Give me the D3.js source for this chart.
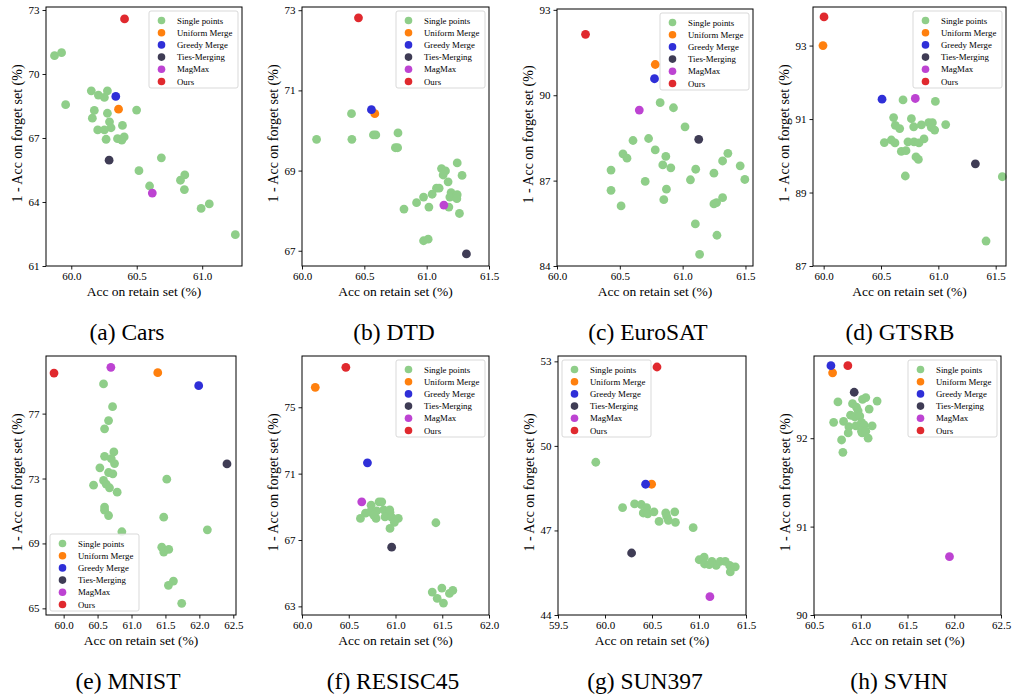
<!DOCTYPE html>
<html><head><meta charset="utf-8">
<script src="https://cdn.jsdelivr.net/npm/d3@7"></script>
<style>
body{margin:0;background:#fff}
svg{display:block}
text{font-family:"Liberation Serif","Times New Roman",serif;fill:#000}
</style>
</head><body>
<svg id="chart" width="1013" height="698"></svg>
<script>
// ---------- series ----------
const seriesNames = ["Single points","Uniform Merge","Greedy Merge","Ties-Merging","MagMax","Ours"];
const seriesColors = ["#8fce89","#ff800e","#2f2fd8","#3f3c55","#bd43d2","#e0292e"];
// method points order: Uniform Merge, Greedy Merge, Ties-Merging, MagMax, Ours

// ---------- (a) Cars ----------
const carsSingle = [[59.872,70.86],[59.926,71.00],[59.957,68.56],[60.153,69.21],[60.207,69.01],[60.253,68.90],[60.276,69.21],[60.176,68.29],[60.161,67.93],[60.276,68.16],[60.292,67.76],[60.304,67.48],[60.202,67.38],[60.253,67.38],[60.266,66.94],[60.353,66.97],[60.386,66.90],[60.404,67.05],[60.391,67.59],[60.499,68.31],[60.688,66.07],[60.517,65.47],[60.598,64.75],[60.834,65.02],[60.867,65.27],[60.864,64.58],[60.992,63.70],[61.054,63.91],[61.253,62.47]];
const carsMethods = [[60.361,68.35],[60.340,68.95],[60.289,65.96],[60.619,64.42],[60.407,72.58]];
const carsXTicks = [60.0,60.5,61.0];
const carsYTicks = [61,64,67,70,73];

// ---------- (b) DTD ----------
const dtdSingle = [[60.117,69.78],[60.397,70.42],[60.400,69.78],[60.573,69.89],[60.592,69.89],[60.770,69.94],[60.749,69.57],[60.767,69.57],[61.119,69.05],[61.151,68.99],[61.132,68.89],[61.245,69.19],[61.284,68.88],[61.172,68.72],[61.079,68.56],[61.100,68.56],[61.044,68.41],[60.975,68.34],[60.919,68.20],[60.818,68.04],[61.018,68.09],[61.196,68.45],[61.186,68.34],[61.245,68.40],[61.242,68.30],[61.178,68.09],[61.263,67.93],[60.975,67.25],[61.012,67.29]];
const dtdMethods = [[60.584,70.42],[60.557,70.52],[61.319,66.92],[61.138,68.14],[60.453,72.81]];
const dtdXTicks = [60.0,60.5,61.0,61.5];
const dtdYTicks = [67,69,71,73];

// ---------- (c) EuroSAT ----------
const eurosatSingle = [[60.821,89.74],[60.927,89.56],[61.019,88.89],[60.729,88.48],[60.605,88.41],[60.782,88.08],[60.525,87.94],[60.557,87.79],[60.866,87.85],[60.842,87.55],[60.906,87.45],[60.430,87.37],[60.702,86.97],[60.430,86.66],[60.871,86.70],[60.850,86.33],[60.510,86.11],[61.104,87.40],[61.062,87.03],[61.249,87.26],[61.318,87.69],[61.360,87.96],[61.458,87.52],[61.495,87.04],[61.318,86.40],[61.270,86.23],[61.249,86.18],[61.101,85.48],[61.273,85.08],[61.135,84.41]];
const eurosatMethods = [[60.782,91.08],[60.776,90.58],[61.128,88.45],[60.655,89.48],[60.227,92.14]];
const eurosatXTicks = [60.0,60.5,61.0,61.5];
const eurosatYTicks = [84,87,90,93];

// ---------- (d) GTSRB ----------
const gtsrbSingle = [[60.692,91.52],[60.974,91.48],[60.610,91.04],[60.765,91.01],[60.625,90.83],[60.663,90.74],[60.785,90.79],[60.852,90.84],[60.916,90.90],[60.948,90.90],[60.939,90.77],[60.968,90.70],[61.064,90.85],[60.875,90.46],[60.529,90.36],[60.590,90.43],[60.622,90.35],[60.735,90.38],[60.788,90.38],[60.831,90.35],[60.677,90.12],[60.718,90.14],[60.805,89.97],[60.826,89.90],[60.712,89.45],[61.558,89.43],[61.416,87.68]];
const gtsrbMethods = [[59.994,93.00],[60.509,91.54],[61.323,89.78],[60.799,91.56],[60.003,93.78]];
const gtsrbXTicks = [60.0,60.5,61.0,61.5];
const gtsrbYTicks = [87,89,91,93];

// ---------- (e) MNIST ----------
const mnistSingle = [[60.588,78.83],[60.721,77.43],[60.662,76.57],[60.603,76.06],[60.740,74.64],[60.603,74.37],[60.701,74.23],[60.750,73.92],[60.534,73.66],[60.662,73.37],[60.725,73.29],[60.588,72.88],[60.441,72.59],[60.627,72.65],[60.676,72.43],[60.789,72.16],[60.603,71.24],[60.603,71.05],[60.662,70.72],[60.858,69.72],[61.520,72.96],[61.475,70.62],[62.118,69.84],[61.446,68.77],[61.475,68.47],[61.549,68.63],[61.618,66.68],[61.544,66.42],[61.740,65.31]];
const mnistMethods = [[61.387,79.52],[61.990,78.72],[62.407,73.90],[60.696,79.85],[59.858,79.50]];
const mnistXTicks = [60.0,60.5,61.0,61.5,62.0,62.5];
const mnistYTicks = [65,69,73,77];

// ---------- (f) RESISC45 ----------
const resiscSingle = [[60.739,69.10],[60.824,69.30],[60.853,69.30],[60.679,68.62],[60.728,68.70],[60.799,68.76],[60.874,68.82],[60.938,68.82],[60.941,68.68],[60.888,68.40],[60.792,68.30],[60.625,68.30],[60.959,68.36],[61.030,68.30],[60.988,68.06],[60.941,67.70],[60.767,68.50],[61.432,68.04],[61.393,63.86],[61.496,64.10],[61.446,63.48],[61.513,63.20],[61.577,63.78],[61.613,63.96]];
const resiscMethods = [[60.142,76.20],[60.700,71.65],[60.959,66.57],[60.639,69.30],[60.469,77.41]];
const resiscXTicks = [60.0,60.5,61.0,61.5,62.0];
const resiscYTicks = [63,67,71,75];

// ---------- (g) SUN397 ----------
const sunSingle = [[59.902,49.42],[60.187,47.81],[60.315,47.94],[60.386,47.92],[60.443,47.81],[60.407,47.62],[60.454,47.59],[60.521,47.66],[60.646,47.62],[60.657,47.50],[60.674,47.36],[60.742,47.66],[60.749,47.29],[60.575,47.32],[60.938,47.10],[61.002,45.96],[61.055,46.05],[61.059,45.81],[61.137,45.90],[61.183,45.76],[61.226,45.90],[61.279,45.90],[61.326,45.76],[61.386,45.71],[61.333,45.53],[61.109,45.79]];
const sunMethods = [[60.496,48.64],[60.432,48.64],[60.283,46.20],[61.116,44.65],[60.553,52.80]];
const sunXTicks = [59.5,60.0,60.5,61.0,61.5];
const sunYTicks = [44,47,50,53];

// ---------- (h) SVHN ----------
const svhnSingle = [[60.756,92.41],[60.710,92.18],[60.912,92.39],[60.955,92.35],[60.972,92.31],[61.019,92.44],[61.054,92.46],[61.175,92.42],[61.090,92.33],[60.891,92.26],[60.936,92.24],[60.990,92.25],[60.816,92.19],[60.873,92.13],[60.948,92.14],[61.008,92.18],[61.036,92.15],[61.122,92.14],[60.866,92.06],[61.015,92.06],[61.008,92.08],[61.054,92.08],[61.079,92.00],[60.795,91.98],[60.809,91.84]];
const svhnMethods = [[60.699,92.74],[60.681,92.82],[60.930,92.52],[61.949,90.66],[60.862,92.82]];
const svhnXTicks = [60.5,61.0,61.5,62.0,62.5];
const svhnYTicks = [90,91,92];

// ---------- panel layout (positions / axis limits) ----------
const panels = [
  {cap:"(a) Cars",     single:carsSingle,    methods:carsMethods,    xt:carsXTicks,    yt:carsYTicks,    box:[46,242,7,266],       xd:[59.807,61.304], yd:[61,73.14],    leg:"ur", capX:127},
  {cap:"(b) DTD",      single:dtdSingle,     methods:dtdMethods,     xt:dtdXTicks,     yt:dtdYTicks,     box:[302,489,7,266],      xd:[60,61.5],       yd:[66.62,73.08], leg:"ur", capX:394},
  {cap:"(c) EuroSAT",  single:eurosatSingle, methods:eurosatMethods, xt:eurosatXTicks, yt:eurosatYTicks, box:[557,753,9,266],      xd:[60,61.56],      yd:[84,93.03],    leg:"ur", capX:648},
  {cap:"(d) GTSRB",    single:gtsrbSingle,   methods:gtsrbMethods,   xt:gtsrbXTicks,   yt:gtsrbYTicks,   box:[813,1006,7,266],     xd:[59.907,61.59],  yd:[87,94.05],    leg:"ur", capX:900},
  {cap:"(e) MNIST",    single:mnistSingle,   methods:mnistMethods,   xt:mnistXTicks,   yt:mnistYTicks,   box:[46,236,356,615],     xd:[59.74,62.54],   yd:[64.59,80.55], leg:"ll", capX:128},
  {cap:"(f) RESISC45", single:resiscSingle,  methods:resiscMethods,  xt:resiscXTicks,  yt:resiscYTicks,  box:[302,489,356,615],    xd:[60,62],         yd:[62.48,78.09], leg:"ur", capX:393},
  {cap:"(g) SUN397",   single:sunSingle,     methods:sunMethods,     xt:sunXTicks,     yt:sunYTicks,     box:[558,746,356,615],    xd:[59.5,61.5],     yd:[44,53.19],    leg:"ul", capX:645},
  {cap:"(h) SVHN",     single:svhnSingle,    methods:svhnMethods,    xt:svhnXTicks,    yt:svhnYTicks,    box:[814,1001,356,615],   xd:[60.5,62.5],     yd:[90,92.93],    leg:"ur", capX:899}
];

const svg = d3.select("#chart");
const R = 4.4;

function drawPanel(p, idx) {
  const [L, Rt, T, B] = p.box;
  const g = svg.append("g");
  const x = d3.scaleLinear().domain(p.xd).range([L, Rt]);
  const y = d3.scaleLinear().domain(p.yd).range([B, T]);

  g.selectAll("circle.single").data(p.single).join("circle")
    .attr("class","single")
    .attr("cx", d => x(d[0])).attr("cy", d => y(d[1])).attr("r", R)
    .attr("fill", seriesColors[0]);
  g.selectAll("circle.method").data(p.methods).join("circle")
    .attr("class","method")
    .attr("cx", d => x(d[0])).attr("cy", d => y(d[1])).attr("r", R)
    .attr("fill", (d, i) => seriesColors[i + 1]);

  const xa = g.append("g").attr("transform", `translate(0,${B})`)
    .call(d3.axisBottom(x).tickValues(p.xt).tickFormat(d3.format(".1f")).tickSize(3.5).tickSizeOuter(0).tickPadding(2.5));
  const ya = g.append("g").attr("transform", `translate(${L},0)`)
    .call(d3.axisLeft(y).tickValues(p.yt).tickFormat(d3.format("d")).tickSize(3.5).tickSizeOuter(0).tickPadding(3));
  [xa, ya].forEach(a => {
    a.select(".domain").remove();
    a.selectAll("line").attr("stroke", "#000").attr("stroke-width", 0.9);
    a.selectAll("text").attr("font-family", '"Liberation Serif",serif').attr("font-size", 11).attr("fill", "#000");
  });

  g.append("rect").attr("x", L).attr("y", T).attr("width", Rt - L).attr("height", B - T)
    .attr("fill", "none").attr("stroke", "#000").attr("stroke-width", 1);

  g.append("text").attr("x", (L + Rt) / 2).attr("y", B + 29.5)
    .attr("text-anchor", "middle").attr("font-size", 13.5).text("Acc on retain set (%)");
  g.append("text").attr("transform", `translate(${L - 24},${(T + B) / 2 - 3}) rotate(-90)`)
    .attr("text-anchor", "middle").attr("font-size", 14).text("1 - Acc on forget set (%)");

  g.append("text").attr("x", p.capX).attr("y", B + 74)
    .attr("text-anchor", "middle").attr("font-size", 23.5).text(p.cap);

  // legend
  const lw = 89, lh = 77, inset = 4;
  let lx, ly;
  if (p.leg === "ur") { lx = Rt - inset - lw; ly = T + inset; }
  else if (p.leg === "ul") { lx = L + inset; ly = T + inset; }
  else { lx = L + inset; ly = B - inset - lh; }
  const lg = g.append("g").attr("transform", `translate(${lx},${ly})`);
  lg.append("rect").attr("width", lw).attr("height", lh).attr("rx", 2)
    .attr("fill", "#fff").attr("fill-opacity", 0.85).attr("stroke", "#cfcfcf").attr("stroke-width", 0.8);
  const rows = lg.selectAll("g.row").data(seriesNames).join("g")
    .attr("class","row")
    .attr("transform", (d, i) => `translate(0,${9.5 + i * 12.2})`);
  rows.append("circle").attr("cx", 12.5).attr("cy", 0).attr("r", 3.8).attr("fill", (d, i) => seriesColors[i]);
  rows.append("text").attr("x", 28).attr("y", 3).attr("font-size", 8.8).text(d => d);
}

panels.forEach(drawPanel);
</script>
</body></html>
